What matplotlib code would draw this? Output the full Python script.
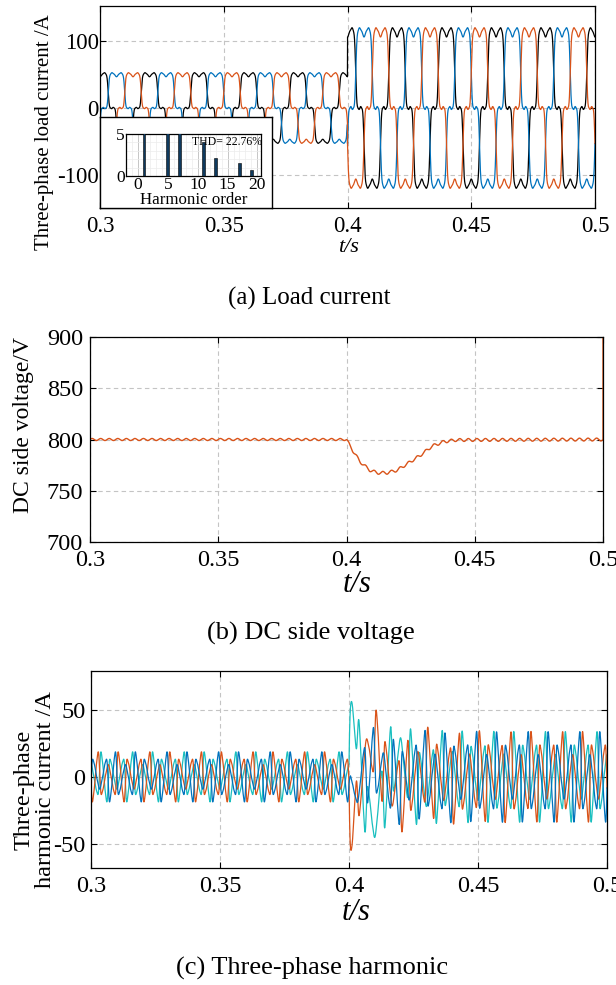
import numpy as np
import matplotlib.pyplot as plt

plt.rcParams.update({
    "font.family": "Liberation Serif",
    "axes.linewidth": 0.9,
    "axes.unicode_minus": False,
    "figure.facecolor": "white",
    "savefig.facecolor": "white",
})

# ---------------- data ----------------
# (a) load current, built from the harmonic spectrum in the inset (% of fundamental)
harm_order = [1, 5, 7, 11, 13, 17, 19]
harm_pct = [100, 20.5, 8.5, 4.1, 2.1, 1.5, 0.7]
harm_sign = [1, -1, -1, 1, 1, -1, -1]
thd_label = "THD= 22.76%"
load_fund = [55, 125]          # fundamental peak (A) before / after the load step
step_time = 0.4
grid_freq = 50
pulse_centre = 0.30            # centre of a positive pulse of the first phase (s)
load_colors = ["#000000", "#0072BD", "#D95319"]

# (b) DC side voltage
dc_t = [0.3, 0.4, 0.4023, 0.4053, 0.409, 0.412, 0.4158, 0.4197, 0.4243, 0.4289,
        0.4334, 0.438, 0.4426, 0.5]
dc_v = [800, 800, 789.7, 778.3, 770.2, 767.5, 767.5, 770.0, 777.3, 784.8,
        793.6, 797.9, 799.5, 800]
dc_ripple = [1.0, 1.4]         # ripple amplitude (V) before / after the step
dc_ripple_freq = 300
dc_end_value = 905

# (c) three-phase harmonic current
hc_fund = [62, 112]
hc_settle = 0.010              # time constant of the harmonic amplitude change (s)
hc_trans_amp = [72, -52, -20]
hc_trans_tau = 0.012
hc_trans_freq = 50
hc_trans_rise = 0.0005
hc_colors = ["#19BFBF", "#D95319", "#0072BD"]

t = np.linspace(0.3, 0.5, 8001)


def phase_wave(k, amps, skip_fund=False):
    theta = 2 * np.pi * grid_freq * (t - pulse_centre) + np.pi / 2 - k * 2 * np.pi / 3
    out = np.zeros_like(t)
    for h, p, s in zip(harm_order, harm_pct, harm_sign):
        if skip_fund and h == 1:
            continue
        out += s * p / 100.0 * np.sin(h * theta)
    return amps * out


GRID = dict(color="#c4c4c4", linestyle=(0, (4, 3)), linewidth=0.8)


def style(ax, size):
    ax.tick_params(direction="in", top=True, right=True, length=4, width=0.8,
                   labelsize=size)
    ax.grid(True, **GRID)
    ax.set_axisbelow(True)


fig = plt.figure(figsize=(6.16, 9.85), dpi=100)
W, H = 616.0, 985.0
XT = [0.3, 0.35, 0.4, 0.45, 0.5]
XTL = ["0.3", "0.35", "0.4", "0.45", "0.5"]


def px_axes(l, tp, r, b, **kw):
    return fig.add_axes([l / W, 1 - b / H, (r - l) / W, (b - tp) / H], **kw)


# ---------------- (a) load current ----------------
ax1 = px_axes(100, 6, 595, 208)
amp = np.where(t < step_time, load_fund[0], load_fund[1])
for k, c in enumerate(load_colors):
    ax1.plot(t, phase_wave(k, amp), color=c, lw=0.9)
ax1.set_xlim(0.3, 0.5)
ax1.set_ylim(-150, 153)
ax1.set_xticks(XT)
ax1.set_xticklabels(XTL)
ax1.set_yticks([-100, 0, 100])
style(ax1, 16.5)
ax1.tick_params(axis="x", pad=6)
ax1.tick_params(axis="y", pad=1)
fig.text(45 / W, 1 - 132 / H, "Three-phase load current /A", rotation=90,
         ha="center", va="center", fontsize=15)
fig.text(348 / W, 1 - 248 / H, "t/s", style="italic", ha="center", va="center",
         fontsize=16)
fig.text(309 / W, 1 - 298 / H, "(a) Load current", ha="center", va="center",
         fontsize=18)

# inset with the harmonic spectrum
bg = px_axes(100, 117, 272, 208)
bg.set_zorder(3)
bg.set_xticks([])
bg.set_yticks([])
for s in bg.spines.values():
    s.set_color("black")
    s.set_linewidth(1.0)

ins = px_axes(126, 134, 261, 176)
ins.set_zorder(4)
ins.bar(harm_order, harm_pct, width=0.45, color="#0f3a5e", edgecolor="black",
        linewidth=0.4, zorder=3)
ins.set_xlim(-2, 20.6)
ins.set_ylim(0, 5)
ins.set_xticks([0, 5, 10, 15, 20])
ins.set_yticks([0, 5])
ins.set_xticks(np.arange(-2, 21, 1), minor=True)
ins.set_yticks([1, 2, 3, 4], minor=True)
ins.grid(True, which="major", color="#bdbdbd", lw=0.6)
ins.grid(True, which="minor", color="#ececec", lw=0.5)
ins.set_axisbelow(True)
ins.tick_params(which="both", length=0, labelsize=12.5, pad=1)
ins.set_xlabel("Harmonic order", fontsize=12.2, labelpad=-1)
ins.text(1.01, 0.82, thd_label, transform=ins.transAxes, ha="right", va="center",
         fontsize=8.5)

# ---------------- (b) DC side voltage ----------------
ax2 = px_axes(90, 337, 603, 542)
rip = np.where(t < step_time, dc_ripple[0], dc_ripple[1])
v = np.interp(t, dc_t, dc_v) + rip * np.sin(2 * np.pi * dc_ripple_freq * t)
t2 = np.append(t, t[-1])
v2 = np.append(v, dc_end_value)
ax2.plot(t2, v2, color="#D95319", lw=1.0)
ax2.set_xlim(0.3, 0.5)
ax2.set_ylim(700, 900)
ax2.set_xticks(XT)
ax2.set_xticklabels(XTL)
ax2.set_yticks([700, 750, 800, 850, 900])
style(ax2, 17.5)
ax2.tick_params(axis="x", pad=6)
ax2.tick_params(axis="y", pad=5)
fig.text(24 / W, 1 - 425 / H, "DC side voltage/V", rotation=90, ha="center",
         va="center", fontsize=17)
fig.text(357 / W, 1 - 585 / H, "t/s", style="italic", ha="center", va="center",
         fontsize=22)
fig.text(311 / W, 1 - 633 / H, "(b) DC side voltage", ha="center", va="center",
         fontsize=19)

# ---------------- (c) harmonic current ----------------
ax3 = px_axes(91, 671, 607, 868)
after = t >= step_time
dt = np.where(after, t - step_time, 0.0)
hamp = np.where(after,
                hc_fund[0] + (hc_fund[1] - hc_fund[0]) * (1 - np.exp(-dt / hc_settle)),
                hc_fund[0])
for k, c in enumerate(hc_colors):
    y = -phase_wave(k, hamp, skip_fund=True)
    y += np.where(after, hc_trans_amp[k] * np.exp(-dt / hc_trans_tau)
                  * (1 - np.exp(-dt / hc_trans_rise))
                  * np.cos(2 * np.pi * hc_trans_freq * dt), 0.0)
    ax3.plot(t, y, color=c, lw=0.9)
ax3.set_xlim(0.3, 0.5)
ax3.set_ylim(-68, 79)
ax3.set_xticks(XT)
ax3.set_xticklabels(XTL)
ax3.set_yticks([-50, 0, 50])
style(ax3, 17.5)
ax3.tick_params(axis="x", pad=6)
ax3.tick_params(axis="y", pad=4)
fig.text(35 / W, 1 - 790 / H, "Three-phase\nharmonic current /A", rotation=90,
         ha="center", va="center", fontsize=17.5, multialignment="center",
         linespacing=1.0)
fig.text(356 / W, 1 - 913 / H, "t/s", style="italic", ha="center", va="center",
         fontsize=22)
fig.text(312 / W, 1 - 968 / H, "(c) Three-phase harmonic", ha="center",
         va="center", fontsize=19)

fig.savefig("out.png", dpi=100)
